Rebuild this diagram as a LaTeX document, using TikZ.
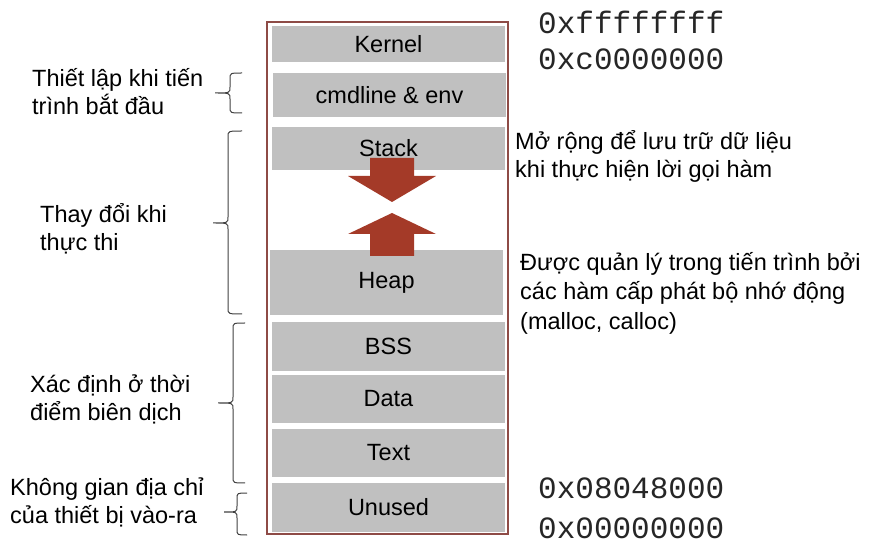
\documentclass[tikz,border=0pt]{standalone}
\usepackage{fontspec}
\setmainfont{Liberation Sans}
\setmonofont{Liberation Mono}
\definecolor{segfill}{HTML}{C0C0C0}
\definecolor{frame}{HTML}{8E4B46}
\definecolor{arrowred}{HTML}{A43A28}
\definecolor{bracecol}{HTML}{404040}
\newcommand{\curlybrace}[6]{%
  \draw[bracestyle] (#1,#4) .. controls (#2,#4) .. (#2,#4+6) -- (#2,#5-6)
    .. controls (#2,#5) .. (#3,#5) .. controls (#2,#5) .. (#2,#5+6)
    -- (#2,#6-6) .. controls (#2,#6) .. (#1,#6);}
\begin{document}
\begin{tikzpicture}[x=1pt,y=-1pt,
  seg/.style={fill=segfill, minimum width=233pt, inner sep=0pt,
    font=\fontsize{23.5}{28}\selectfont},
  lbl/.style={anchor=west, align=left, inner sep=0pt,
    font=\fontsize{23.5}{28}\selectfont},
  addr/.style={anchor=west, inner sep=0pt, text=black!85, font=\ttfamily\fontsize{31}{31}\selectfont},
  bracestyle/.style={draw=bracecol, line width=1pt},
  growarrow/.style={fill=arrowred}]
\path[use as bounding box] (0,0) rectangle (871,545);
% memory frame
\node[draw=frame, line width=2pt, minimum width=241pt, minimum height=512pt, inner sep=0pt] (mem) at (387.5,278) {};
% segments
\node[seg, minimum height=36pt] (kernel) at (388.5,44) {Kernel};
\node[seg, minimum height=44pt] (cmd) at (389.5,95) {cmdline \& env};
\node[seg, minimum height=43pt] (stack) at (388.5,148.5) {Stack};
\node[seg, minimum height=65pt] (heap) at (386.5,282.5) {Heap};
\node[seg, minimum height=49pt] (bss) at (388.5,346.5) {BSS};
\node[seg, minimum height=48pt] (data) at (388.5,399) {Data};
\node[seg, minimum height=48pt] (text) at (388.5,453) {Text};
\node[seg, minimum height=49pt] (unused) at (388.5,507.5) {Unused};
% growth arrows
\fill[growarrow] (370,158) -- (414,158) -- (414,176) -- (436,176) -- (392,202) -- (348,176) -- (370,176) -- cycle;
\fill[growarrow] (392,213) -- (436,234) -- (414,234) -- (414,256) -- (370,256) -- (370,234) -- (348,234) -- cycle;
% addresses
\node[addr] (a1) at (538,22) {0xffffffff};
\node[addr] (a2) at (538,59) {0xc0000000};
\node[addr] (a3) at (538,488) {0x08048000};
\node[addr] (a4) at (538,528.5) {0x00000000};
% right notes
\node[lbl] (nstack) at (515,156) {Mở rộng để lưu trữ dữ liệu\\khi thực hiện lời gọi hàm};
\node[lbl, font=\fontsize{23.5}{29.5}\selectfont] (nheap) at (520,293) {Được quản lý trong tiến trình bởi\\các hàm cấp phát bộ nhớ động\\(malloc, calloc)};
% left notes
\node[lbl] (l1) at (32,92) {Thiết lập khi tiến\\trình bắt đầu};
\node[lbl] (l2) at (40,228.5) {Thay đổi khi\\thực thi};
\node[lbl] (l3) at (30,399.5) {Xác định ở thời\\điểm biên dịch};
\node[lbl] (l4) at (10,502) {Không gian địa chỉ\\của thiết bị vào-ra};
% braces
\curlybrace{242}{230}{215}{73}{93}{113}
\curlybrace{242}{228}{213}{131}{223}{314}
\curlybrace{245}{233}{218}{323}{403}{483}
\curlybrace{247}{237}{224}{493}{512}{535}
\end{tikzpicture}
\end{document}
